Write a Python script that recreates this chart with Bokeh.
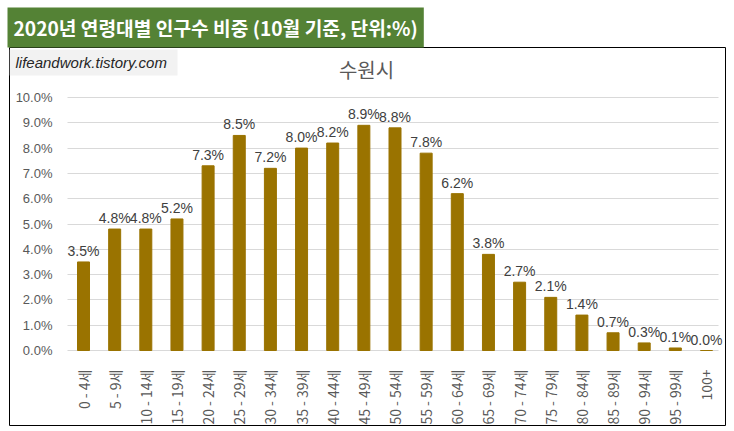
import math
from bokeh.plotting import figure
from bokeh.models import ColumnDataSource, Range1d, FixedTicker, Label, BoxAnnotation
from bokeh.core.properties import value
from bokeh.embed import file_html
from bokeh.resources import INLINE

# data
ages = ["0 - 4세", "5 - 9세", "10 - 14세", "15 - 19세", "20 - 24세", "25 - 29세",
        "30 - 34세", "35 - 39세", "40 - 44세", "45 - 49세", "50 - 54세", "55 - 59세",
        "60 - 64세", "65 - 69세", "70 - 74세", "75 - 79세", "80 - 84세", "85 - 89세",
        "90 - 94세", "95 - 99세", "100+"]
share = [3.5, 4.8, 4.8, 5.2, 7.3, 8.5, 7.2, 8.0, 8.2, 8.9, 8.8, 7.8,
         6.2, 3.8, 2.7, 2.1, 1.4, 0.7, 0.3, 0.1, 0.0]
share_labels = ["%.1f%%" % v for v in share]
y_ticks = [0, 1, 2, 3, 4, 5, 6, 7, 8, 9, 10]
y_tick_labels = ["0.0%", "1.0%", "2.0%", "3.0%", "4.0%", "5.0%",
                 "6.0%", "7.0%", "8.0%", "9.0%", "10.0%"]

pos = list(range(len(ages)))
src = ColumnDataSource(dict(pos=pos, share=share, label=share_labels))

# frame = the bordered chart box; ranges padded so the plot area sits inside it
p = figure(width=734, height=430, x_range=Range1d(-2.376, 20.61),
           y_range=Range1d(-2.964, 11.976), output_backend="svg", toolbar_location=None,
           min_border_left=9, min_border_right=9, min_border_top=47, min_border_bottom=5)
p.outline_line_color = "black"
p.outline_line_width = 1
p.background_fill_color = "white"
p.border_fill_color = "white"

p.vbar(x="pos", top="share", width=0.385, color="#9a7300", source=src)
p.text(x="pos", y="share", text="label", source=src, text_align="center",
       text_baseline="bottom", y_offset=-3, text_font=value("Liberation Sans"),
       text_font_size="14px", text_color="#404040")

# axes drawn inside the box
p.yaxis.fixed_location = -0.514
p.yaxis.ticker = FixedTicker(ticks=y_ticks)
p.yaxis.major_label_overrides = dict(zip(y_ticks, y_tick_labels))
p.yaxis.axis_line_color = None
p.yaxis.major_tick_line_color = None
p.yaxis.minor_tick_line_color = None
p.yaxis.major_label_standoff = 9
p.yaxis.major_label_text_font = "Liberation Sans"
p.yaxis.major_label_text_font_size = "13px"
p.yaxis.major_label_text_color = "#595959"

p.xaxis.fixed_location = 0
p.xaxis.ticker = FixedTicker(ticks=pos)
p.xaxis.major_label_overrides = dict(zip(pos, ages))
p.xaxis.axis_line_color = None
p.xaxis.major_tick_line_color = None
p.xaxis.minor_tick_line_color = None
p.xaxis.major_label_orientation = math.pi / 2
p.xaxis.major_label_standoff = 13
p.xaxis.major_label_text_font = "Noto Sans CJK KR"
p.xaxis.major_label_text_font_size = "14px"
p.xaxis.major_label_text_color = "#595959"

p.xgrid.grid_line_color = None
p.ygrid.grid_line_color = "#d9d9d9"
p.ygrid.cross_bounds = (-0.514, 20.38)

# green title box above the chart
p.title.text = "2020년 연령대별 인구수 비중 (10월 기준, 단위:%)"
p.title.align = "left"
p.title.offset = -2
p.title.standoff = 0
p.title.padding = 6
p.title.background_fill_color = "#548235"
p.title.text_color = "white"
p.title.text_font = "Noto Sans CJK KR"
p.title.text_font_style = "bold"
p.title.text_font_size = "19.2px"

# watermark and city name
p.add_layout(BoxAnnotation(left=0, right=168, top=376, bottom=350,
                           left_units="screen", right_units="screen",
                           top_units="screen", bottom_units="screen",
                           fill_color="#f2f2f2", fill_alpha=1, line_color=None))
p.add_layout(Label(x=6, y=363, x_units="screen", y_units="screen",
                   text="lifeandwork.tistory.com", text_font="Liberation Sans",
                   text_font_style="italic", text_font_size="15px",
                   text_color="#262626", text_baseline="middle"))
p.add_layout(Label(x=357, y=356, x_units="screen", y_units="screen",
                   text="수원시", text_font="Noto Sans CJK KR",
                   text_font_size="20px", text_color="#595959",
                   text_align="center", text_baseline="middle"))

open("out.html", "w").write(file_html(p, INLINE))
